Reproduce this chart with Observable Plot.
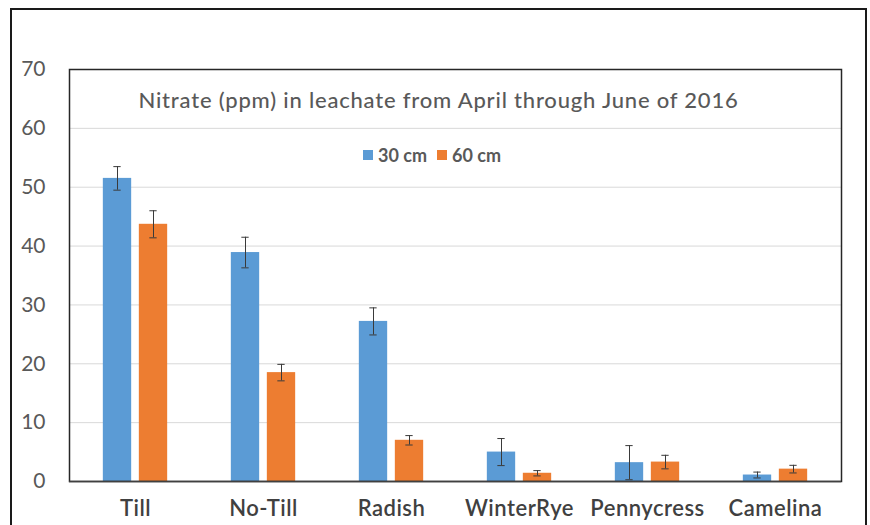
<!DOCTYPE html>
<html>
<head>
<meta charset="utf-8">
<script src="https://cdn.jsdelivr.net/npm/d3@7"></script>
<script src="https://cdn.jsdelivr.net/npm/@observablehq/plot@0.6"></script>
<style>
  body { margin: 0; background: #fff; font-family: Lato, "Open Sans", sans-serif; }
  #wrap { position: relative; width: 870px; height: 525px; overflow: hidden; }
  #border { position: absolute; left: 10px; top: 8px; width: 857px; height: 600px;
            border: 2px solid #1a1a1a; box-sizing: border-box; pointer-events: none; }
  #chart { position: absolute; left: 0; top: 0; }
  #chart svg g[aria-label="x-axis tick label"] text { letter-spacing: 0.5px; }
  #title { position: absolute; top: 86px; left: 0; width: 877px; text-align: center;
           font-size: 22px; letter-spacing: 0.8px; color: #595959; font-weight: 500; }
  #legend { position: absolute; top: 144px; left: 0; width: 864px; display: flex;
            justify-content: center; gap: 10px; font-size: 18px; font-weight: bold; color: #595959; }
  #legend .item { display: flex; align-items: center; }
  #legend .sw { width: 10px; height: 10px; margin-right: 5px; }
</style>
</head>
<body>
<div id="wrap">
  <div id="chart"></div>
  <div id="title">Nitrate (ppm) in leachate from April through June of 2016</div>
  <div id="legend"></div>
  <div id="border"></div>
</div>
<script>
// Treatments along the x axis
const categories = ["Till", "No-Till", "Radish", "WinterRye", "Pennycress", "Camelina"];
// Sampling depths (series)
const depths = ["30 cm", "60 cm"];
// Mean nitrate (ppm) per treatment
const nitrate30 = [51.5, 38.9, 27.2, 5.0, 3.2, 1.1];
const nitrate60 = [43.7, 18.5, 7.0, 1.4, 3.3, 2.1];
// Error bar half-widths (ppm)
const err30 = [2.0, 2.6, 2.3, 2.3, 2.9, 0.5];
const err60 = [2.3, 1.4, 0.8, 0.45, 1.15, 0.65];
// Y axis ticks
const yTicks = [0, 10, 20, 30, 40, 50, 60, 70];
const colors = ["#5b9bd5", "#ed7d31"];

const rows = [
  ...categories.map((c, i) => ({category: c, depth: depths[0], value: nitrate30[i], err: err30[i]})),
  ...categories.map((c, i) => ({category: c, depth: depths[1], value: nitrate60[i], err: err60[i]}))
];

// Geometry of the bar pair inside each category band
const width = 870, marginLeft = 69, marginRight = 29;
const band = (width - marginLeft - marginRight) / categories.length;
const barW = 29, gap = 7, capW = 8;
const offset = (barW + gap) / 2;            // distance from band centre to each bar centre
const half = band / 2;
const inset = (d) => d === depths[0]
  ? {insetLeft: half - offset - barW / 2, insetRight: half + offset - barW / 2}
  : {insetLeft: half + offset - barW / 2, insetRight: half - offset - barW / 2};

const marks = [
  Plot.gridY(yTicks.filter(t => t > 0 && t < 70), {stroke: "#d9d9d9", strokeOpacity: 1}),
  Plot.axisY({ticks: yTicks, tickSize: 0, tickPadding: 24, fontSize: 21, color: "#595959"}),
  Plot.axisX({tickSize: 0, tickPadding: 19, fontSize: 22, fontWeight: 600, color: "#404040"})
];
depths.forEach((d, k) => {
  const sub = rows.filter(r => r.depth === d);
  const dx = k === 0 ? -offset : offset;
  marks.push(
    Plot.barY(sub, {x: "category", y: "value", fill: "depth", ...inset(d)}),
    Plot.ruleX(sub, {x: "category", y1: r => r.value - r.err, y2: r => r.value + r.err,
                     dx, stroke: "#3a3a3a", strokeWidth: 1}),
    Plot.tickY(sub, {x: "category", y: r => r.value + r.err, dx, stroke: "#3a3a3a",
                     insetLeft: half - capW / 2, insetRight: half - capW / 2}),
    Plot.tickY(sub, {x: "category", y: r => r.value - r.err, dx, stroke: "#3a3a3a",
                     insetLeft: half - capW / 2, insetRight: half - capW / 2})
  );
});
marks.push(
  Plot.frame({stroke: "#262626", strokeWidth: 1.5}),
  Plot.ruleY([0], {stroke: "#404040", strokeWidth: 1.5})
);

const chart = Plot.plot({
  width, height: 525,
  marginLeft, marginRight, marginTop: 69, marginBottom: 44,
  style: {fontFamily: "Lato, 'Open Sans', sans-serif", background: "transparent"},
  x: {domain: categories, padding: 0, label: null},
  y: {domain: [0, 70], label: null},
  color: {domain: depths, range: colors},
  marks
});
document.getElementById("chart").append(chart);

// Legend swatches taken from the chart's own colour scale
const color = chart.scale("color");
const items = d3.select("#legend").selectAll(".item").data(color.domain).join("div").attr("class", "item");
items.append("span").attr("class", "sw").style("background", (d, i) => color.range[i]);
items.append("span").text(d => d);
</script>
</body>
</html>
